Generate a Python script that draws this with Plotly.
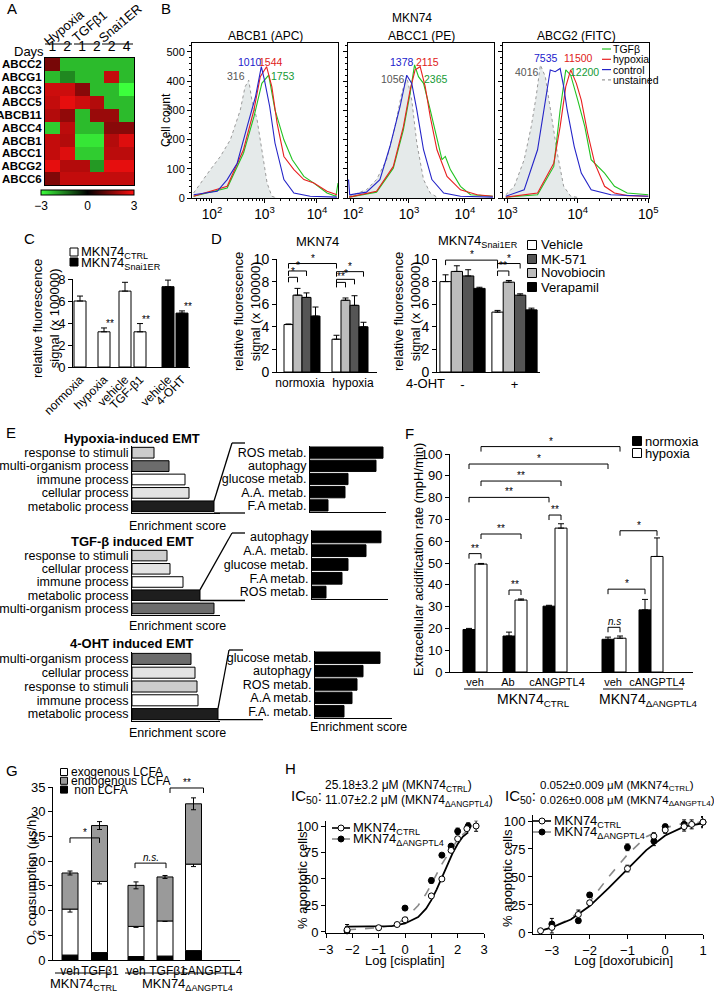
import plotly.graph_objects as go

W, H = 714, 992
FONT = "Liberation Sans, Arial, Helvetica, sans-serif"

# ============================ DATA ============================
# ---- A: heat map (fold change, -3..3) ----
A_genes = ["ABCC2", "ABCG1", "ABCC3", "ABCC5", "ABCB11",
           "ABCC4", "ABCB1", "ABCC1", "ABCG2", "ABCC6"]
A_days = ["1", "2", "1", "2", "2", "4"]
A_groups = ["Hypoxia", "TGFβ1", "Snai1ER"]
A_z = [
    [1.4, -2.2, -2.2, -2.2, -2.2, -2.2],
    [-2.2, -1.6, -2.2, -2.2, 2.3, -2.2],
    [2.4, 2.4, 1.6, -2.2, -2.2, -3.0],
    [2.3, 2.7, 2.4, 2.1, -2.2, -2.2],
    [2.1, 1.7, -2.2, 1.8, 1.8, -2.2],
    [-2.4, 2.2, -2.2, -2.2, 1.6, 1.6],
    [2.3, 2.1, -2.7, -2.7, 2.1, 2.6],
    [2.3, 2.6, -2.4, -2.4, 2.2, 2.2],
    [2.7, 2.1, 2.1, -1.8, 2.7, 2.7],
    [1.5, 2.3, 2.3, 2.3, 2.3, 2.3],
]
A_scale_ticks = [-3, 0, 3]

# ---- B: flow cytometry histograms (log10 fluorescence, cell count) ----
B_titles = ["ABCB1 (APC)", "ABCC1 (PE)", "ABCG2 (FITC)"]
B_legend = ["TGFβ", "hypoxia", "control", "unstained"]
B1_unst_x = [1.65, 1.78, 1.97, 2.16, 2.35, 2.54, 2.63, 2.70, 2.76, 2.86, 2.95, 3.05, 3.14, 3.24]
B1_unst_y = [17, 51, 97, 142, 199, 301, 380, 403, 335, 267, 165, 51, 6, 0]
B1_ctrl_x = [1.65, 2.10, 2.29, 2.48, 2.67, 2.83, 2.94, 3.00, 3.10, 3.20, 3.37, 3.56, 3.87, 4.38]
B1_ctrl_y = [11, 23, 63, 119, 244, 347, 449, 403, 312, 188, 63, 17, 6, 3]
B1_hyp_x = [1.65, 2.29, 2.60, 2.80, 2.92, 3.04, 3.14, 3.24, 3.37, 3.56, 3.75, 3.94, 4.19, 4.38]
B1_hyp_y = [6, 40, 165, 301, 415, 449, 381, 256, 142, 97, 63, 51, 23, 11]
B1_tgf_x = [1.65, 2.29, 2.60, 2.80, 2.95, 3.08, 3.20, 3.37, 3.53, 3.75, 3.94, 4.19, 4.36, 4.40]
B1_tgf_y = [6, 34, 153, 278, 392, 420, 301, 199, 131, 74, 51, 17, 6, 51]

B2_unst_x = [1.93, 2.24, 2.42, 2.60, 2.75, 2.87, 2.96, 3.05, 3.14, 3.26, 3.38, 3.50]
B2_unst_y = [6, 28, 63, 131, 244, 358, 415, 335, 188, 63, 17, 3]
B2_ctrl_x = [1.92, 1.94, 2.24, 2.48, 2.66, 2.84, 2.96, 3.05, 3.14, 3.26, 3.41, 3.62, 3.92, 4.50]
B2_ctrl_y = [63, 11, 20, 63, 176, 312, 420, 392, 301, 165, 63, 17, 6, 3]
B2_hyp_x = [1.93, 2.42, 2.72, 2.90, 3.02, 3.11, 3.20, 3.29, 3.38, 3.50, 3.68, 3.92, 4.22, 4.50]
B2_hyp_y = [3, 23, 108, 244, 369, 438, 449, 381, 278, 165, 74, 28, 11, 6]
B2_tgf_x = [1.93, 2.42, 2.72, 2.90, 3.02, 3.10, 3.17, 3.26, 3.38, 3.50, 3.59, 3.65, 3.74, 3.92, 4.10, 4.50]
B2_tgf_y = [3, 20, 102, 233, 358, 455, 415, 392, 301, 199, 131, 142, 97, 40, 11, 6]

B3_unst_x = [2.98, 3.10, 3.24, 3.34, 3.41, 3.47, 3.54, 3.61, 3.71, 3.80, 3.90, 4.00]
B3_unst_y = [11, 40, 131, 244, 347, 455, 415, 312, 153, 40, 6, 2]
B3_ctrl_x = [2.98, 3.24, 3.43, 3.54, 3.61, 3.68, 3.75, 3.80, 3.85, 3.95, 4.05, 4.19, 4.47, 5.00]
B3_ctrl_y = [6, 28, 165, 335, 438, 432, 443, 381, 301, 176, 85, 28, 11, 6]
B3_hyp_x = [2.98, 3.43, 3.66, 3.75, 3.83, 3.90, 3.98, 4.05, 4.14, 4.24, 4.38, 4.52, 4.70, 5.00]
B3_hyp_y = [3, 17, 119, 244, 381, 438, 392, 335, 222, 119, 40, 17, 8, 6]
B3_tgf_x = [2.98, 3.43, 3.66, 3.75, 3.83, 3.90, 4.00, 4.10, 4.19, 4.29, 4.38, 4.52, 4.70, 5.00]
B3_tgf_y = [3, 11, 108, 301, 438, 420, 335, 244, 131, 108, 85, 40, 17, 11]
# median labels: control, hypoxia, unstained, TGFβ
B1_medians = ["1010", "1544", "316", "1753"]
B2_medians = ["1378", "2115", "1056", "2365"]
B3_medians = ["7535", "11500", "4016", "12200"]

# ---- C ----
C_labels = ["normoxia", "hypoxia", "vehicle", "TGF-β1", "vehicle", "4-OHT"]
C_vals = [6.0, 3.2, 6.9, 3.2, 7.3, 4.9]
C_err = [0.45, 0.35, 0.8, 0.75, 0.6, 0.2]
C_line = ["CTRL", "CTRL", "CTRL", "CTRL", "Snai1ER", "Snai1ER"]
C_sig = ["", "**", "", "**", "", "**"]

# ---- D ----
D_treat = ["Vehicle", "Novobiocin", "MK-571", "Verapamil"]
D_legend = ["Vehicle", "MK-571", "Novobiocin", "Verapamil"]
D_left_groups = ["normoxia", "hypoxia"]
D_left_vals = [[4.2, 6.8, 6.6, 4.95], [2.9, 6.35, 5.9, 4.0]]
D_left_err = [[0.05, 0.6, 0.4, 0.8], [0.35, 0.2, 0.85, 0.4]]
D_right_groups = ["-", "+"]
D_right_vals = [[8.0, 8.9, 8.5, 7.4], [5.3, 7.95, 6.8, 5.5]]
D_right_err = [[0.6, 0.5, 0.55, 0.1], [0.15, 0.15, 0.12, 0.15]]

# ---- E ----
E_hyp_terms = ["response to stimuli", "multi-organism process", "immune process",
               "cellular process", "metabolic process"]
E_hyp_score = [22, 37, 53, 57, 82]
E_tgf_terms = ["response to stimuli", "cellular process", "immune process",
               "metabolic process", "multi-organism process"]
E_tgf_score = [35, 38, 51, 68, 82]
E_oht_terms = ["multi-organism process", "cellular process", "response to stimuli",
               "immune process", "metabolic process"]
E_oht_score = [59, 63, 65, 66, 86]
E_hyp_met = ["ROS metab.", "autophagy", "glucose metab.", "A.A. metab.", "F.A metab."]
E_hyp_met_score = [73, 66, 38, 35, 18]
E_tgf_met = ["autophagy", "A.A. metab.", "glucose metab.", "F.A metab.", "ROS metab."]
E_tgf_met_score = [69, 54, 36, 30, 14]
E_oht_met = ["glucose metab.", "autophagy", "ROS metab.", "A.A metab.", "F.A. metab."]
E_oht_met_score = [65, 48, 42, 37, 29]

# ---- F ----
F_groups = ["veh", "Ab", "cANGPTL4", "veh", "cANGPTL4"]
F_norm = [19.5, 16.5, 30.2, 15.0, 28.5]
F_norm_err = [0.5, 1.8, 0.4, 1.0, 4.8]
F_hyp = [49.5, 33.0, 66.0, 15.5, 53.0]
F_hyp_err = [0.3, 0.5, 2.0, 1.0, 8.5]

# ---- G ----
G_labels = ["veh", "TGFβ1", "veh", "TGFβ1", "cANGPTL4"]
G_non = [1.0, 1.5, 0.7, 0.8, 1.9]
G_non_err = [0.5, 0.9, 0.5, 0.9, 0.7]
G_exo = [9.3, 14.4, 6.1, 7.1, 17.5]
G_exo_err = [0.6, 0.5, 0.2, 0.1, 0.5]
G_endo = [7.3, 11.3, 8.3, 8.9, 12.2]
G_endo_err = [0.4, 0.8, 0.7, 0.3, 1.2]

# ---- H ----
HL_x_ctrl = [-2.2, -1.0, -0.3, 0.0, 1.0, 1.4, 1.75, 2.0, 2.35, 2.7]
HL_y_ctrl = [2, 4, 7, 11.5, 34, 50, 77, 88, 97.5, 100]
HL_e_ctrl = [5, 2, 1.5, 1.5, 1.5, 1.5, 2, 1.5, 2, 5]
HL_x_d = [-2.2, 0.0, 1.0, 1.4, 1.75, 2.0, 2.4]
HL_y_d = [1, 22.5, 48.5, 72.5, 81, 95, 100]
HL_e_d = [4, 1.5, 2.5, 1.5, 2.5, 3, 3]
HL_fit_x = [-2.2, -1.5, -1.0, -0.5, 0.0, 0.5, 0.8, 1.0, 1.2, 1.4, 1.6, 1.8, 2.0, 2.2, 2.4]
HL_fit_ctrl = [5, 5, 5, 5.5, 8, 14, 22, 30, 40, 51, 63, 74, 83, 90, 94]
HL_fit_d = [2, 3, 4, 6, 12, 25, 36, 45, 55, 64, 72, 80, 87, 92, 96]

HR_x_ctrl = [-3.3, -3.0, -2.3, -2.0, -1.0, -0.3, 0.0, 0.5, 0.7, 1.0]
HR_y_ctrl = [2, 5, 16.5, 27, 57.5, 86.5, 92, 95, 97, 99]
HR_e_ctrl = [1, 5, 4, 1.5, 3, 3, 3, 4, 4, 5]
HR_x_d = [-3.0, -2.3, -2.0, -1.0, -0.3, 0.0, 0.5, 1.0]
HR_y_d = [8, 11, 34, 76.5, 82, 95, 97, 99]
HR_e_d = [5, 2, 2, 3, 4, 2, 4, 4]
HR_fit_x = [-3.3, -3.0, -2.5, -2.0, -1.5, -1.2, -1.0, -0.5, 0.0, 0.5, 1.0]
HR_fit_ctrl = [2, 5, 12, 24, 40, 50, 57, 74, 87, 95, 98]
HR_fit_d = [2, 5, 13, 28, 50, 62, 70, 86, 94, 98, 99]

# ============================ HELPERS ============================
fig = go.Figure()
LAYOUT = {}
SHAPES = []
ANNS = []


def X(px):
    return px / W


def Y(py):
    return 1 - py / H


def tf(size=12, color="black"):
    return dict(size=size, color=color, family=FONT)


class Panel:
    n = 0

    def __init__(self, x0, x1, y0, y1, xr, yr, xkw=None, ykw=None, xlog=False):
        Panel.n += 1
        k = "" if Panel.n == 1 else str(Panel.n)
        self.xa, self.ya = "x" + k, "y" + k
        self.box = (x0, x1, y0, y1)
        self.xr, self.yr = xr, yr
        base = dict(showgrid=False, zeroline=False, showline=True, linecolor="black",
                    linewidth=1, ticks="outside", ticklen=4, tickwidth=1,
                    tickcolor="black", tickfont=tf(12), fixedrange=True,
                    automargin=False, tickangle=0)
        xd = dict(base, domain=[X(x0), X(x1)], range=list(xr), anchor=self.ya)
        if xlog:
            xd["type"] = "log"
        yd = dict(base, domain=[Y(y1), Y(y0)], range=list(yr), anchor=self.xa)
        if xkw:
            xd.update(xkw)
        if ykw:
            yd.update(ykw)
        LAYOUT["xaxis" + k] = xd
        LAYOUT["yaxis" + k] = yd

    def fx(self, v):
        x0, x1, _, _ = self.box
        return X(x0 + (v - self.xr[0]) / (self.xr[1] - self.xr[0]) * (x1 - x0))

    def fy(self, v):
        _, _, y0, y1 = self.box
        return Y(y1 - (v - self.yr[0]) / (self.yr[1] - self.yr[0]) * (y1 - y0))

    def add(self, tr):
        tr.update(xaxis=self.xa, yaxis=self.ya)
        fig.add_trace(tr)


def txt(px, py, s, size=12, xa="center", ya="middle", angle=0, color="black"):
    ANNS.append(dict(x=X(px), y=Y(py), xref="paper", yref="paper", text=s,
                     showarrow=False, xanchor=xa, yanchor=ya, textangle=angle,
                     font=tf(size, color)))


def seg(x0, y0, x1, y1, color="black", width=1, dash="solid"):
    SHAPES.append(dict(type="line", xref="paper", yref="paper", x0=X(x0), y0=Y(y0),
                       x1=X(x1), y1=Y(y1), line=dict(color=color, width=width, dash=dash)))


def square(px, py, size, fill):
    SHAPES.append(dict(type="rect", xref="paper", yref="paper",
                       x0=X(px - size / 2), x1=X(px + size / 2),
                       y0=Y(py + size / 2), y1=Y(py - size / 2),
                       fillcolor=fill, line=dict(color="black", width=1)))


def dot(px, py, r, fill):
    SHAPES.append(dict(type="circle", xref="paper", yref="paper",
                       x0=X(px - r), x1=X(px + r), y0=Y(py + r), y1=Y(py - r),
                       fillcolor=fill, line=dict(color="black", width=1)))


def bracket(p, xa, xb, yv, label, drop=5, size=10):
    ya = p.fy(yv)
    yd = ya - drop / H
    xa_, xb_ = p.fx(xa), p.fx(xb)
    SHAPES.append(dict(type="path", xref="paper", yref="paper",
                       path=f"M{xa_},{yd} L{xa_},{ya} L{xb_},{ya} L{xb_},{yd}",
                       line=dict(color="black", width=1)))
    ANNS.append(dict(x=(xa_ + xb_) / 2, y=ya - 2 / H, xref="paper", yref="paper",
                     text=label, showarrow=False, xanchor="center", yanchor="bottom",
                     font=tf(size)))


def errbar(err):
    return dict(type="data", array=err, arrayminus=[0] * len(err), symmetric=False,
                color="black", thickness=1, width=3)


# ============================ A ============================
txt(12, 9, "A", 15)
pA = Panel(45, 134, 58, 185, (-0.5, 5.5), (9.5, -0.5),
           xkw=dict(side="top", tickvals=list(range(6)), ticktext=A_days, ticks="",
                    mirror=True, tickfont=tf(14)),
           ykw=dict(tickvals=list(range(10)), ticktext=[f"<b>{g}</b>" for g in A_genes],
                    ticks="", mirror=True, tickfont=tf(11.5)))
pA.add(go.Heatmap(z=A_z, x=list(range(6)), y=list(range(10)), zmin=-3, zmax=3,
                  colorscale=[[0, "#3cff3c"], [0.5, "#000000"], [1, "#ff1010"]],
                  showscale=True,
                  colorbar=dict(orientation="h", x=X(87.5), xanchor="center",
                                y=Y(190), yanchor="top", len=93 / W, lenmode="fraction",
                                thickness=5, thicknessmode="pixels", xpad=0, ypad=0,
                                tickvals=A_scale_ticks, ticks="", outlinecolor="black",
                                outlinewidth=1, tickfont=tf(12))))
txt(29, 52, "Days", 13)
for (cx, cy), g in zip([(64, 27), (89, 26), (120, 24)], A_groups):
    txt(cx, cy, g, 13, angle=-40)
for x0, x1 in [(45, 72), (74, 99), (102, 133)]:
    seg(x0, 44, x1, 44)

# ============================ B ============================
txt(166, 9, "B", 15)
txt(412, 18, "MKN74", 12)
txt(166, 120, "Cell count", 12, angle=-90)
B_boxes = [(192, 338, (1.62, 4.4)), (348, 494, (1.91, 4.52)), (503, 649, (2.94, 5.01))]
B_data = [
    (B1_unst_x, B1_unst_y, B1_ctrl_x, B1_ctrl_y, B1_hyp_x, B1_hyp_y, B1_tgf_x, B1_tgf_y),
    (B2_unst_x, B2_unst_y, B2_ctrl_x, B2_ctrl_y, B2_hyp_x, B2_hyp_y, B2_tgf_x, B2_tgf_y),
    (B3_unst_x, B3_unst_y, B3_ctrl_x, B3_ctrl_y, B3_hyp_x, B3_hyp_y, B3_tgf_x, B3_tgf_y),
]
B_med = [B1_medians, B2_medians, B3_medians]
B_med_pos = [[(250, 62), (271, 62), (236, 76), (283, 76)],
             [(402, 62), (427, 62), (393, 79), (436, 79)],
             [(546, 58), (578, 58), (527, 72), (584, 72)]]
COL_CTRL, COL_HYP, COL_TGF, COL_UN = "#2424c8", "#e82020", "#22c322", "#9a9a9a"
med_cols = ["#2020cc", "#e02020", "#555555", "#159a35"]
for i, ((x0, x1, xr), d) in enumerate(zip(B_boxes, B_data)):
    p = Panel(x0, x1, 43, 198, xr, (0, 530), xlog=True,
              xkw=dict(dtick=1, exponentformat="power", mirror=True, tickfont=tf(11),
                       minor=dict(ticks="outside", ticklen=2, tickcolor="black")),
              ykw=dict(dtick=100, mirror=True, tickfont=tf(11), showticklabels=(i == 0),
                       minor=dict(ticks="outside", ticklen=2, dtick=20, tickcolor="black")))
    ux, uy, cx, cy, hx, hy, gx, gy = d
    p.add(go.Scatter(x=[10 ** v for v in ux], y=uy, mode="lines", fill="tozeroy",
                     fillcolor="#e5eaea", line=dict(color=COL_UN, width=1, dash="dot")))
    p.add(go.Scatter(x=[10 ** v for v in gx], y=gy, mode="lines",
                     line=dict(color=COL_TGF, width=1.1)))
    p.add(go.Scatter(x=[10 ** v for v in hx], y=hy, mode="lines",
                     line=dict(color=COL_HYP, width=1.1)))
    p.add(go.Scatter(x=[10 ** v for v in cx], y=cy, mode="lines",
                     line=dict(color=COL_CTRL, width=1.1)))
    txt((x0 + x1) / 2, 36, B_titles[i], 12)
    for (mx, my), lab, col in zip(B_med_pos[i], B_med[i], med_cols):
        txt(mx, my, lab, 10.5, color=col)
for j, (lab, col, dash) in enumerate(zip(B_legend, [COL_TGF, COL_HYP, COL_CTRL, COL_UN],
                                         ["solid", "solid", "solid", "dot"])):
    yy = 49 + j * 10.3
    seg(602, yy, 611, yy, col, 1.2, dash)
    txt(611, yy, lab, 10.5, xa="left")

# ============================ C ============================
txt(29, 238, "C", 15)
C_pos = [7, 31, 52, 67, 95, 109]
pC = Panel(73, 190, 279, 367, (0, 117), (0, 8),
           xkw=dict(tickvals=C_pos, ticktext=C_labels, tickangle=-45, ticks="",
                    tickfont=tf(12)),
           ykw=dict(dtick=2, tickfont=tf(13)))
pC.add(go.Bar(x=C_pos, y=C_vals, width=12, error_y=errbar(C_err), cliponaxis=False,
              marker=dict(color=["white" if s == "CTRL" else "black" for s in C_line],
                          line=dict(color="black", width=1))))
for xv, v, e, s in zip(C_pos, C_vals, C_err, C_sig):
    if s:
        ANNS.append(dict(x=pC.fx(xv), y=pC.fy(v + e) - 3 / H, xref="paper", yref="paper",
                         text=s, showarrow=False, yanchor="bottom", font=tf(10)))
square(74, 252, 8, "white")
square(74, 262, 8, "black")
txt(79, 252, "MKN74<sub>CTRL</sub>", 13, xa="left")
txt(79, 263, "MKN74<sub>Snai1ER</sub>", 13, xa="left")
txt(46, 318, "relative fluorescence<br>signal (x 100000)", 13, angle=-90)

# ============================ D ============================
txt(217, 238, "D", 15)
D_colors = {"Vehicle": "white", "Novobiocin": "#bcbcbc", "MK-571": "#555555",
            "Verapamil": "black"}
DL_centers, DL_bw = [25, 73], 9
DR_centers, DR_bw = [25.5, 77.5], 11.3
pDL = Panel(277, 377, 259, 372, (0, 100), (0, 10),
            xkw=dict(tickvals=[23, 76], ticktext=D_left_groups, ticks="", tickfont=tf(12)),
            ykw=dict(dtick=2, tickfont=tf(14)))
pDR = Panel(437, 540, 259, 372, (0, 103), (0, 10),
            xkw=dict(tickvals=DR_centers, ticktext=D_right_groups, ticks="", tickfont=tf(13)),
            ykw=dict(dtick=2, tickfont=tf(14)))
for p, cents, bw, vals, errs in [(pDL, DL_centers, DL_bw, D_left_vals, D_left_err),
                                 (pDR, DR_centers, DR_bw, D_right_vals, D_right_err)]:
    for i, t in enumerate(D_treat):
        p.add(go.Bar(x=[c + (i - 1.5) * bw for c in cents], y=[v[i] for v in vals],
                     width=bw, error_y=errbar([e[i] for e in errs]), cliponaxis=False,
                     marker=dict(color=D_colors[t], line=dict(color="black", width=1))))


def dpos(cents, bw, g, i):
    return cents[g] + (i - 1.5) * bw


bracket(pDL, dpos(DL_centers, DL_bw, 0, 0), dpos(DL_centers, DL_bw, 0, 1), 8.38, "*")
bracket(pDL, dpos(DL_centers, DL_bw, 0, 0), dpos(DL_centers, DL_bw, 0, 2), 8.94, "*")
bracket(pDL, dpos(DL_centers, DL_bw, 0, 0), dpos(DL_centers, DL_bw, 1, 0), 9.6, "*")
bracket(pDL, dpos(DL_centers, DL_bw, 1, 0), dpos(DL_centers, DL_bw, 1, 1), 7.93, "**")
bracket(pDL, dpos(DL_centers, DL_bw, 1, 0), dpos(DL_centers, DL_bw, 1, 2), 8.2, "*")
bracket(pDL, dpos(DL_centers, DL_bw, 1, 0), dpos(DL_centers, DL_bw, 1, 3), 8.88, "*")
bracket(pDR, dpos(DR_centers, DR_bw, 0, 0), dpos(DR_centers, DR_bw, 1, 0), 9.9, "*")
bracket(pDR, dpos(DR_centers, DR_bw, 1, 0), dpos(DR_centers, DR_bw, 1, 1), 8.94, "**")
bracket(pDR, dpos(DR_centers, DR_bw, 1, 0), dpos(DR_centers, DR_bw, 1, 2), 9.6, "*")
txt(317, 242, "MKN74", 13)
txt(478, 242, "MKN74<sub>Snai1ER</sub>", 13)
txt(247, 312, "relative fluorescence<br>signal (x 100000)", 13, angle=-90)
txt(407, 312, "relative fluorescence<br>signal (x 100000)", 13, angle=-90)
txt(425, 383, "4-OHT", 13)
for j, t in enumerate(D_legend):
    yy = 245 + j * 14
    square(532, yy, 9, D_colors[t])
    txt(539, yy, t, 13, xa="left")

# ============================ E ============================
txt(11, 432, "E", 15)
E_col = {"response to stimuli": "#cdcdcd", "multi-organism process": "#6c6c6c",
         "immune process": "#ffffff", "cellular process": "#e3e3e3",
         "metabolic process": "#1e1e1e"}


def e_panel(x0, x1, y0, y1, rng, terms, scores, colors, width):
    p = Panel(x0, x1, y0, y1, (0, rng), (4.5, -0.5),
              xkw=dict(showticklabels=False, ticks=""),
              ykw=dict(tickvals=list(range(5)), ticktext=terms, ticks="",
                       tickfont=tf(12.5)))
    p.add(go.Bar(x=scores, y=list(range(5)), orientation="h", width=width,
                 cliponaxis=False,
                 marker=dict(color=colors, line=dict(color="black", width=1))))
    return p


eL1 = e_panel(132, 220, 446, 513, 88, E_hyp_terms, E_hyp_score,
              [E_col[t] for t in E_hyp_terms], 0.8)
eR1 = e_panel(310, 386, 446, 512, 76, E_hyp_met, E_hyp_met_score, "black", 0.85)
eL2 = e_panel(132, 220, 549, 615, 88, E_tgf_terms, E_tgf_score,
              [E_col[t] for t in E_tgf_terms], 0.8)
eR2 = e_panel(312, 388, 530, 599, 76, E_tgf_met, E_tgf_met_score, "black", 0.85)
eL3 = e_panel(132, 220, 652, 721, 88, E_oht_terms, E_oht_score,
              [E_col[t] for t in E_oht_terms], 0.8)
eR3 = e_panel(315, 392, 651, 718, 77, E_oht_met, E_oht_met_score, "black", 0.85)
txt(132, 438, "<b>Hypoxia-induced EMT</b>", 13)
txt(132, 541, "<b>TGF-β induced EMT</b>", 13)
txt(132, 643, "<b>4-OHT induced EMT</b>", 13)
for yy in [526, 626, 733]:
    txt(177, yy, "Enrichment score", 12.5)
txt(358, 727, "Enrichment score", 12.5)


def connector(p, score, row, top_pt, bottom_pt):
    xs = p.fx(score) * W
    yt = (1 - p.fy(row - 0.4)) * H
    yb = (1 - p.fy(row + 0.4)) * H
    seg(xs, yt, top_pt[0], top_pt[1], width=1.3)
    seg(top_pt[0], top_pt[1], top_pt[2], top_pt[1], width=1.3)
    yy = yb if bottom_pt[1] is None else bottom_pt[1]
    seg(xs, yy, bottom_pt[0], yy, width=1.3)


connector(eL1, E_hyp_score[4], 4, (232, 443, 245), (245, 513))
connector(eL2, E_tgf_score[3], 3, (232, 533, 245), (245, None))
connector(eL3, E_oht_score[4], 4, (229, 650, 243), (263, None))

# ============================ F ============================
txt(410, 433, "F", 15)
F_centers, F_off, F_bw = [25, 65, 105, 164, 201], 6, 12
F_label_pos = [25, 58, 107, 163, 207]
pF = Panel(450, 693, 454, 672, (0, 243), (0, 100),
           xkw=dict(tickvals=F_label_pos, ticktext=F_groups, ticks="", tickfont=tf(11)),
           ykw=dict(dtick=10, tickfont=tf(13)))
pF.add(go.Bar(x=[c - F_off for c in F_centers], y=F_norm, width=F_bw,
              error_y=errbar(F_norm_err), cliponaxis=False,
              marker=dict(color="black", line=dict(color="black", width=1))))
pF.add(go.Bar(x=[c + F_off for c in F_centers], y=F_hyp, width=F_bw,
              error_y=errbar(F_hyp_err), cliponaxis=False,
              marker=dict(color="white", line=dict(color="black", width=1))))
N = [c - F_off for c in F_centers]
Hx = [c + F_off for c in F_centers]
bracket(pF, Hx[0], Hx[3], 103.4, "*")
bracket(pF, N[0], N[3], 95.4, "*")
bracket(pF, Hx[0], Hx[2], 87.6, "**")
bracket(pF, N[0], N[2], 80.1, "**")
bracket(pF, N[2], Hx[2], 72.0, "**")
bracket(pF, Hx[0], Hx[1], 63.3, "**")
bracket(pF, N[0], Hx[0], 54.3, "**")
bracket(pF, N[1], Hx[1], 37.6, "**")
bracket(pF, Hx[3], Hx[4], 64.8, "*")
bracket(pF, N[3], N[4], 38.0, "*")
bracket(pF, N[3], Hx[3], 20.5, "<i>n.s</i>", size=10)
square(637, 441, 9, "black")
square(637, 453, 9, "white")
txt(643, 441, "normoxia", 13, xa="left")
txt(643, 453, "hypoxia", 13, xa="left")
txt(418, 560, "Extracellular acidification rate (mpH/min)", 13, angle=-90)
seg(464, 689, 570, 689)
seg(603, 689, 683, 689)
txt(533, 700, "MKN74<sub>CTRL</sub>", 14)
txt(648, 700, "MKN74<sub>ΔANGPTL4</sub>", 14)

# ============================ G ============================
txt(12, 770, "G", 15)
G_centers, G_bw = [17, 46.5, 83, 112, 140.5], 16
G_label_pos = [17, 47, 83, 115, 159]
pG = Panel(53, 240, 787, 960, (0, 187), (0, 35),
           xkw=dict(tickvals=G_label_pos, ticktext=G_labels, ticks="", tickfont=tf(12)),
           ykw=dict(dtick=5, tickfont=tf(13)))
base_exo = G_non
base_endo = [a + b for a, b in zip(G_non, G_exo)]


def sym(e):
    return dict(type="data", array=e, color="black", thickness=1, width=2.5)


pG.add(go.Bar(x=G_centers, y=G_non, width=G_bw, error_y=sym(G_non_err), cliponaxis=False,
              marker=dict(color="black", line=dict(color="black", width=1))))
pG.add(go.Bar(x=G_centers, y=G_exo, base=base_exo, width=G_bw, error_y=sym(G_exo_err),
              cliponaxis=False,
              marker=dict(color="white", line=dict(color="black", width=1))))
pG.add(go.Bar(x=G_centers, y=G_endo, base=base_endo, width=G_bw, error_y=sym(G_endo_err),
              cliponaxis=False,
              marker=dict(color="#9a9a9a", line=dict(color="black", width=1))))
bracket(pG, G_centers[0], G_centers[1], 24.7, "*")
bracket(pG, G_centers[2] - 1, G_centers[3] + 1, 19.6, "<i>n.s.</i>", size=10)
bracket(pG, G_centers[3] + 5, G_centers[4] + 10, 34.8, "**")
for j, (lab, col) in enumerate([("exogenous LCFA", "white"), ("endogenous LCFA", "#9a9a9a"),
                                ("non LCFA", "black")]):
    yy = 772 + j * 8.8
    square(64, yy, 7, col)
    txt(69, yy, lab if j < 2 else " " + lab, 12, xa="left")
txt(32, 880, "O<sub>2</sub> consumption (μs/h)", 13, angle=-90)
seg(55, 973, 110, 973)
seg(125, 973, 235, 973)
txt(83, 984, "MKN74<sub>CTRL</sub>", 13)
txt(187, 984, "MKN74<sub>ΔANGPTL4</sub>", 13)

# ============================ H ============================
txt(290, 768, "H", 15)
pHL = Panel(326, 484, 820.7, 933, (-3, 3), (-1, 105),
            xkw=dict(tickvals=[-3, -2, -1, 0, 1, 2, 3], tickfont=tf(13)),
            ykw=dict(tickvals=[0, 25, 50, 75, 100], tickfont=tf(13)))
pHR = Panel(533, 703, 815.4, 934.1, (-3.5, 1), (-1, 105),
            xkw=dict(tickvals=[-3, -2, -1, 0, 1], tickfont=tf(13)),
            ykw=dict(tickvals=[0, 25, 50, 75, 100], tickfont=tf(13)))
for p, fx_, fc, fd, xc, yc, ec, xd, yd, ed in [
        (pHL, HL_fit_x, HL_fit_ctrl, HL_fit_d, HL_x_ctrl, HL_y_ctrl, HL_e_ctrl,
         HL_x_d, HL_y_d, HL_e_d),
        (pHR, HR_fit_x, HR_fit_ctrl, HR_fit_d, HR_x_ctrl, HR_y_ctrl, HR_e_ctrl,
         HR_x_d, HR_y_d, HR_e_d)]:
    p.add(go.Scatter(x=fx_, y=fd, mode="lines", line=dict(color="#8a8a8a", width=1.6,
                                                           dash="dash")))
    p.add(go.Scatter(x=fx_, y=fc, mode="lines", line=dict(color="black", width=1.8)))
    p.add(go.Scatter(x=xd, y=yd, mode="markers", cliponaxis=False,
                     error_y=dict(type="data", array=ed, color="black", thickness=1, width=2),
                     marker=dict(color="black", size=6, line=dict(color="black", width=1))))
    p.add(go.Scatter(x=xc, y=yc, mode="markers", cliponaxis=False,
                     error_y=dict(type="data", array=ec, color="black", thickness=1, width=2),
                     marker=dict(color="white", size=6, line=dict(color="black", width=1))))
# legends
for lx, ly in [(332, 828), (533, 821)]:
    seg(lx, ly, lx + 18, ly, "black", 1.6)
    dot(lx + 9, ly, 3, "white")
    txt(lx + 19, ly, "MKN74<sub>CTRL</sub>", 13, xa="left")
    seg(lx, ly + 11, lx + 18, ly + 11, "#8a8a8a", 1.6)
    dot(lx + 9, ly + 11, 3, "black")
    txt(lx + 19, ly + 11, "MKN74<sub>ΔANGPTL4</sub>", 13, xa="left")
txt(324, 796, "IC<sub>50</sub>:", 15, xa="right")
txt(323, 786, "25.18±3.2 μM (MKN74<sub>CTRL</sub>)", 12, xa="left")
txt(323, 801, "11.07±2.2 μM (MKN74<sub>ΔANGPTL4</sub>)", 12, xa="left")
txt(538, 796, "IC<sub>50</sub>:", 15, xa="right")
txt(538, 786, "0.052±0.009 μM (MKN74<sub>CTRL</sub>)", 11.5, xa="left")
txt(538, 801, "0.026±0.008 μM (MKN74<sub>ΔANGPTL4</sub>)", 11.5, xa="left")
txt(302, 880, "% apoptotic cells", 13, angle=-90)
txt(507, 878, "% apoptotic cells", 13, angle=-90)
txt(405, 960, "Log [cisplatin]", 13)
txt(623, 960, "Log [doxorubicin]", 13)

# ============================ LAYOUT ============================
fig.update_layout(
    width=W, height=H, margin=dict(l=0, r=0, t=0, b=0, autoexpand=False),
    paper_bgcolor="white", plot_bgcolor="white", showlegend=False,
    barmode="overlay", font=tf(12), shapes=SHAPES, annotations=ANNS, **LAYOUT)
fig.write_html("out.html", config={"displayModeBar": False},
               post_script="document.body.style.margin='0';"
                           "document.body.style.overflow='hidden';")
